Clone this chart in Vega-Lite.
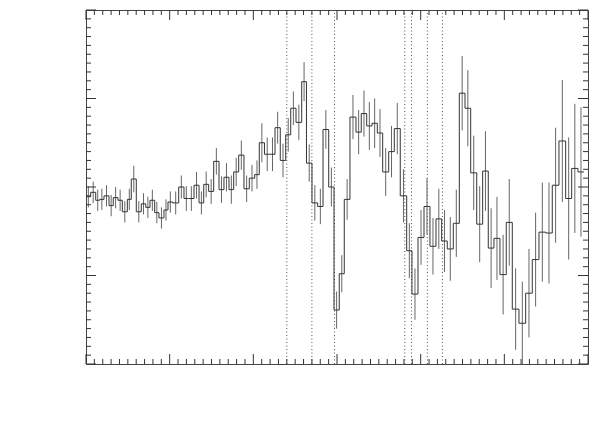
{
  "$schema": "https://vega.github.io/schema/vega-lite/v6.json",
  "width": 502,
  "height": 354,
  "autosize": "none",
  "padding": {"left": 86, "top": 10, "right": 16, "bottom": 64},
  "background": "white",
  "config": {
    "view": {"stroke": "#444444", "strokeWidth": 1},
    "axis": {
      "labelFont": "DejaVu Sans",
      "titleFont": "DejaVu Sans",
      "labelFontSize": 18,
      "titleFontSize": 20,
      "labelColor": "#808080",
      "titleColor": "#808080",
      "titleFontWeight": "normal",
      "grid": false,
      "labelOverlap": false,
      "labelFlush": false
    }
  },
  "datasets": {
    "bins": [
      {"lo": 4.000, "hi": 4.056, "v": 0.989, "e": 0.012},
      {"lo": 4.056, "hi": 4.116, "v": 0.994, "e": 0.012},
      {"lo": 4.116, "hi": 4.164, "v": 0.985, "e": 0.012},
      {"lo": 4.164, "hi": 4.215, "v": 0.986, "e": 0.012},
      {"lo": 4.215, "hi": 4.275, "v": 0.990, "e": 0.012},
      {"lo": 4.275, "hi": 4.326, "v": 0.979, "e": 0.012},
      {"lo": 4.326, "hi": 4.382, "v": 0.988, "e": 0.012},
      {"lo": 4.382, "hi": 4.434, "v": 0.985, "e": 0.012},
      {"lo": 4.434, "hi": 4.494, "v": 0.972, "e": 0.012},
      {"lo": 4.494, "hi": 4.541, "v": 0.986, "e": 0.012},
      {"lo": 4.541, "hi": 4.601, "v": 1.009, "e": 0.015},
      {"lo": 4.601, "hi": 4.661, "v": 0.972, "e": 0.012},
      {"lo": 4.661, "hi": 4.714, "v": 0.981, "e": 0.012},
      {"lo": 4.714, "hi": 4.765, "v": 0.977, "e": 0.012},
      {"lo": 4.765, "hi": 4.821, "v": 0.985, "e": 0.012},
      {"lo": 4.821, "hi": 4.872, "v": 0.971, "e": 0.012},
      {"lo": 4.872, "hi": 4.932, "v": 0.965, "e": 0.012},
      {"lo": 4.932, "hi": 4.980, "v": 0.974, "e": 0.012},
      {"lo": 4.980, "hi": 5.036, "v": 0.983, "e": 0.012},
      {"lo": 5.036, "hi": 5.108, "v": 0.982, "e": 0.013},
      {"lo": 5.108, "hi": 5.171, "v": 1.000, "e": 0.013},
      {"lo": 5.171, "hi": 5.227, "v": 0.987, "e": 0.014},
      {"lo": 5.227, "hi": 5.291, "v": 0.987, "e": 0.014},
      {"lo": 5.291, "hi": 5.351, "v": 1.002, "e": 0.015},
      {"lo": 5.351, "hi": 5.407, "v": 0.982, "e": 0.013},
      {"lo": 5.407, "hi": 5.466, "v": 1.003, "e": 0.0145},
      {"lo": 5.466, "hi": 5.526, "v": 0.995, "e": 0.014},
      {"lo": 5.526, "hi": 5.590, "v": 1.029, "e": 0.015},
      {"lo": 5.590, "hi": 5.649, "v": 0.997, "e": 0.015},
      {"lo": 5.649, "hi": 5.709, "v": 1.011, "e": 0.016},
      {"lo": 5.709, "hi": 5.765, "v": 0.997, "e": 0.016},
      {"lo": 5.765, "hi": 5.825, "v": 1.017, "e": 0.016},
      {"lo": 5.825, "hi": 5.888, "v": 1.036, "e": 0.0165},
      {"lo": 5.888, "hi": 5.952, "v": 0.998, "e": 0.015},
      {"lo": 5.952, "hi": 6.016, "v": 1.010, "e": 0.015},
      {"lo": 6.016, "hi": 6.071, "v": 1.014, "e": 0.016},
      {"lo": 6.071, "hi": 6.133, "v": 1.050, "e": 0.022},
      {"lo": 6.133, "hi": 6.199, "v": 1.037, "e": 0.019},
      {"lo": 6.199, "hi": 6.259, "v": 1.037, "e": 0.019},
      {"lo": 6.259, "hi": 6.322, "v": 1.067, "e": 0.018},
      {"lo": 6.322, "hi": 6.387, "v": 1.030, "e": 0.019},
      {"lo": 6.387, "hi": 6.447, "v": 1.059, "e": 0.019},
      {"lo": 6.447, "hi": 6.510, "v": 1.089, "e": 0.019},
      {"lo": 6.510, "hi": 6.578, "v": 1.073, "e": 0.020},
      {"lo": 6.578, "hi": 6.635, "v": 1.119, "e": 0.022},
      {"lo": 6.635, "hi": 6.701, "v": 1.027, "e": 0.021},
      {"lo": 6.701, "hi": 6.769, "v": 0.982, "e": 0.020},
      {"lo": 6.769, "hi": 6.833, "v": 0.978, "e": 0.020},
      {"lo": 6.833, "hi": 6.901, "v": 1.065, "e": 0.022},
      {"lo": 6.901, "hi": 6.964, "v": 1.000, "e": 0.022},
      {"lo": 6.964, "hi": 7.027, "v": 0.861, "e": 0.021},
      {"lo": 7.027, "hi": 7.087, "v": 0.902, "e": 0.021},
      {"lo": 7.087, "hi": 7.155, "v": 0.986, "e": 0.023},
      {"lo": 7.155, "hi": 7.227, "v": 1.079, "e": 0.025},
      {"lo": 7.227, "hi": 7.290, "v": 1.062, "e": 0.025},
      {"lo": 7.290, "hi": 7.355, "v": 1.083, "e": 0.026},
      {"lo": 7.355, "hi": 7.418, "v": 1.069, "e": 0.027},
      {"lo": 7.418, "hi": 7.482, "v": 1.072, "e": 0.028},
      {"lo": 7.482, "hi": 7.546, "v": 1.061, "e": 0.027},
      {"lo": 7.546, "hi": 7.618, "v": 1.017, "e": 0.027},
      {"lo": 7.618, "hi": 7.685, "v": 1.040, "e": 0.029},
      {"lo": 7.685, "hi": 7.756, "v": 1.066, "e": 0.029},
      {"lo": 7.756, "hi": 7.833, "v": 0.990, "e": 0.030},
      {"lo": 7.833, "hi": 7.896, "v": 0.928, "e": 0.031},
      {"lo": 7.896, "hi": 7.968, "v": 0.879, "e": 0.029},
      {"lo": 7.968, "hi": 8.040, "v": 0.943, "e": 0.031},
      {"lo": 8.040, "hi": 8.111, "v": 0.978, "e": 0.032},
      {"lo": 8.111, "hi": 8.183, "v": 0.933, "e": 0.032},
      {"lo": 8.183, "hi": 8.251, "v": 0.964, "e": 0.034},
      {"lo": 8.251, "hi": 8.318, "v": 0.939, "e": 0.035},
      {"lo": 8.318, "hi": 8.390, "v": 0.930, "e": 0.036},
      {"lo": 8.390, "hi": 8.462, "v": 0.959, "e": 0.038},
      {"lo": 8.462, "hi": 8.530, "v": 1.106, "e": 0.042},
      {"lo": 8.530, "hi": 8.598, "v": 1.089, "e": 0.043},
      {"lo": 8.598, "hi": 8.670, "v": 1.016, "e": 0.042},
      {"lo": 8.670, "hi": 8.741, "v": 0.958, "e": 0.043},
      {"lo": 8.741, "hi": 8.808, "v": 1.018, "e": 0.045},
      {"lo": 8.808, "hi": 8.876, "v": 0.931, "e": 0.045},
      {"lo": 8.876, "hi": 8.948, "v": 0.942, "e": 0.047},
      {"lo": 8.948, "hi": 9.023, "v": 0.901, "e": 0.045},
      {"lo": 9.023, "hi": 9.095, "v": 0.960, "e": 0.049},
      {"lo": 9.095, "hi": 9.175, "v": 0.862, "e": 0.046},
      {"lo": 9.175, "hi": 9.255, "v": 0.846, "e": 0.047},
      {"lo": 9.255, "hi": 9.334, "v": 0.880, "e": 0.050},
      {"lo": 9.334, "hi": 9.414, "v": 0.918, "e": 0.053},
      {"lo": 9.414, "hi": 9.494, "v": 0.949, "e": 0.056},
      {"lo": 9.494, "hi": 9.573, "v": 0.948, "e": 0.057},
      {"lo": 9.573, "hi": 9.653, "v": 1.002, "e": 0.065},
      {"lo": 9.653, "hi": 9.733, "v": 1.052, "e": 0.069},
      {"lo": 9.733, "hi": 9.805, "v": 0.987, "e": 0.069},
      {"lo": 9.805, "hi": 9.880, "v": 1.021, "e": 0.073},
      {"lo": 9.880, "hi": 9.952, "v": 1.017, "e": 0.073}
    ],
    "lines": [
      {"E": 6.40}, {"E": 6.70}, {"E": 6.97}, {"E": 7.81}, {"E": 7.89}, {"E": 8.08}, {"E": 8.26}
    ],
    "xmaj": [{"t": 4}, {"t": 5}, {"t": 6}, {"t": 7}, {"t": 8}, {"t": 9}, {"t": 10}],
    "xmin": [
      {"t": 4.1}, {"t": 4.2}, {"t": 4.3}, {"t": 4.4}, {"t": 4.5}, {"t": 4.6}, {"t": 4.7}, {"t": 4.8}, {"t": 4.9},
      {"t": 5.1}, {"t": 5.2}, {"t": 5.3}, {"t": 5.4}, {"t": 5.5}, {"t": 5.6}, {"t": 5.7}, {"t": 5.8}, {"t": 5.9},
      {"t": 6.1}, {"t": 6.2}, {"t": 6.3}, {"t": 6.4}, {"t": 6.5}, {"t": 6.6}, {"t": 6.7}, {"t": 6.8}, {"t": 6.9},
      {"t": 7.1}, {"t": 7.2}, {"t": 7.3}, {"t": 7.4}, {"t": 7.5}, {"t": 7.6}, {"t": 7.7}, {"t": 7.8}, {"t": 7.9},
      {"t": 8.1}, {"t": 8.2}, {"t": 8.3}, {"t": 8.4}, {"t": 8.5}, {"t": 8.6}, {"t": 8.7}, {"t": 8.8}, {"t": 8.9},
      {"t": 9.1}, {"t": 9.2}, {"t": 9.3}, {"t": 9.4}, {"t": 9.5}, {"t": 9.6}, {"t": 9.7}, {"t": 9.8}, {"t": 9.9}
    ],
    "ymaj": [{"t": 0.8}, {"t": 0.9}, {"t": 1.0}, {"t": 1.1}, {"t": 1.2}],
    "ymin": [
      {"t": 0.81}, {"t": 0.82}, {"t": 0.83}, {"t": 0.84}, {"t": 0.85}, {"t": 0.86}, {"t": 0.87}, {"t": 0.88}, {"t": 0.89},
      {"t": 0.91}, {"t": 0.92}, {"t": 0.93}, {"t": 0.94}, {"t": 0.95}, {"t": 0.96}, {"t": 0.97}, {"t": 0.98}, {"t": 0.99},
      {"t": 1.01}, {"t": 1.02}, {"t": 1.03}, {"t": 1.04}, {"t": 1.05}, {"t": 1.06}, {"t": 1.07}, {"t": 1.08}, {"t": 1.09},
      {"t": 1.11}, {"t": 1.12}, {"t": 1.13}, {"t": 1.14}, {"t": 1.15}, {"t": 1.16}, {"t": 1.17}, {"t": 1.18}, {"t": 1.19}
    ]
  },
  "layer": [
    {
      "data": {"name": "lines"},
      "mark": {"type": "rule", "strokeDash": [1, 2.5], "color": "#555555", "strokeWidth": 1},
      "encoding": {
        "x": {
          "field": "E", "type": "quantitative",
          "scale": {"domain": [4, 10], "nice": false, "zero": false},
          "axis": {
            "orient": "bottom", "title": "Energy [keV]", "ticks": false, "domain": false,
            "labelPadding": 14, "titlePadding": 7,
            "values": [4, 5, 6, 7, 8, 9, 10], "format": "d"
          }
        },
        "y": {
          "datum": 0.8, "type": "quantitative",
          "scale": {"domain": [0.8, 1.2], "nice": false, "zero": false},
          "axis": {
            "orient": "left", "title": "Ratio Data/Model", "titleFontSize": 18, "ticks": false, "domain": false,
            "labelPadding": 8, "titlePadding": 19,
            "values": [0.8, 0.9, 1.0, 1.1, 1.2], "format": ".1f"
          }
        },
        "y2": {"datum": 1.2}
      }
    },
    {
      "data": {"name": "bins"},
      "transform": [
        {"calculate": "(datum.lo + datum.hi) / 2", "as": "mid"},
        {"calculate": "datum.v - datum.e", "as": "ylo"},
        {"calculate": "datum.v + datum.e", "as": "yhi"}
      ],
      "mark": {"type": "rule", "color": "#666666", "strokeWidth": 1, "clip": true},
      "encoding": {
        "x": {"field": "mid", "type": "quantitative", "axis": null},
        "y": {"field": "ylo", "type": "quantitative", "axis": null},
        "y2": {"field": "yhi"}
      }
    },
    {
      "data": {"name": "bins"},
      "transform": [
        {"fold": ["lo", "hi"], "as": ["key", "E"]}
      ],
      "mark": {"type": "line", "color": "#333333", "strokeWidth": 1, "interpolate": "linear"},
      "encoding": {
        "x": {"field": "E", "type": "quantitative", "axis": null},
        "y": {"field": "v", "type": "quantitative", "axis": null},
        "order": [
          {"field": "E", "type": "quantitative"},
          {"field": "key", "type": "ordinal"}
        ]
      }
    },
    {
      "data": {"name": "xmaj"},
      "mark": {"type": "tick", "orient": "vertical", "size": 10, "thickness": 1, "color": "#333333", "opacity": 1, "yOffset": -5},
      "encoding": {
        "x": {"field": "t", "type": "quantitative", "axis": null},
        "y": {"datum": 0.8, "type": "quantitative", "axis": null}
      }
    },
    {
      "data": {"name": "xmaj"},
      "mark": {"type": "tick", "orient": "vertical", "size": 10, "thickness": 1, "color": "#333333", "opacity": 1, "yOffset": 5},
      "encoding": {
        "x": {"field": "t", "type": "quantitative", "axis": null},
        "y": {"datum": 1.2, "type": "quantitative", "axis": null}
      }
    },
    {
      "data": {"name": "xmin"},
      "mark": {"type": "tick", "orient": "vertical", "size": 5, "thickness": 1, "color": "#333333", "opacity": 1, "yOffset": -2.5},
      "encoding": {
        "x": {"field": "t", "type": "quantitative", "axis": null},
        "y": {"datum": 0.8, "type": "quantitative", "axis": null}
      }
    },
    {
      "data": {"name": "xmin"},
      "mark": {"type": "tick", "orient": "vertical", "size": 5, "thickness": 1, "color": "#333333", "opacity": 1, "yOffset": 2.5},
      "encoding": {
        "x": {"field": "t", "type": "quantitative", "axis": null},
        "y": {"datum": 1.2, "type": "quantitative", "axis": null}
      }
    },
    {
      "data": {"name": "ymaj"},
      "mark": {"type": "tick", "orient": "horizontal", "size": 10, "thickness": 1, "color": "#333333", "opacity": 1, "xOffset": 5},
      "encoding": {
        "y": {"field": "t", "type": "quantitative", "axis": null},
        "x": {"datum": 4, "type": "quantitative", "axis": null}
      }
    },
    {
      "data": {"name": "ymaj"},
      "mark": {"type": "tick", "orient": "horizontal", "size": 10, "thickness": 1, "color": "#333333", "opacity": 1, "xOffset": -5},
      "encoding": {
        "y": {"field": "t", "type": "quantitative", "axis": null},
        "x": {"datum": 10, "type": "quantitative", "axis": null}
      }
    },
    {
      "data": {"name": "ymin"},
      "mark": {"type": "tick", "orient": "horizontal", "size": 5, "thickness": 1, "color": "#333333", "opacity": 1, "xOffset": 2.5},
      "encoding": {
        "y": {"field": "t", "type": "quantitative", "axis": null},
        "x": {"datum": 4, "type": "quantitative", "axis": null}
      }
    },
    {
      "data": {"name": "ymin"},
      "mark": {"type": "tick", "orient": "horizontal", "size": 5, "thickness": 1, "color": "#333333", "opacity": 1, "xOffset": -2.5},
      "encoding": {
        "y": {"field": "t", "type": "quantitative", "axis": null},
        "x": {"datum": 10, "type": "quantitative", "axis": null}
      }
    }
  ]
}
